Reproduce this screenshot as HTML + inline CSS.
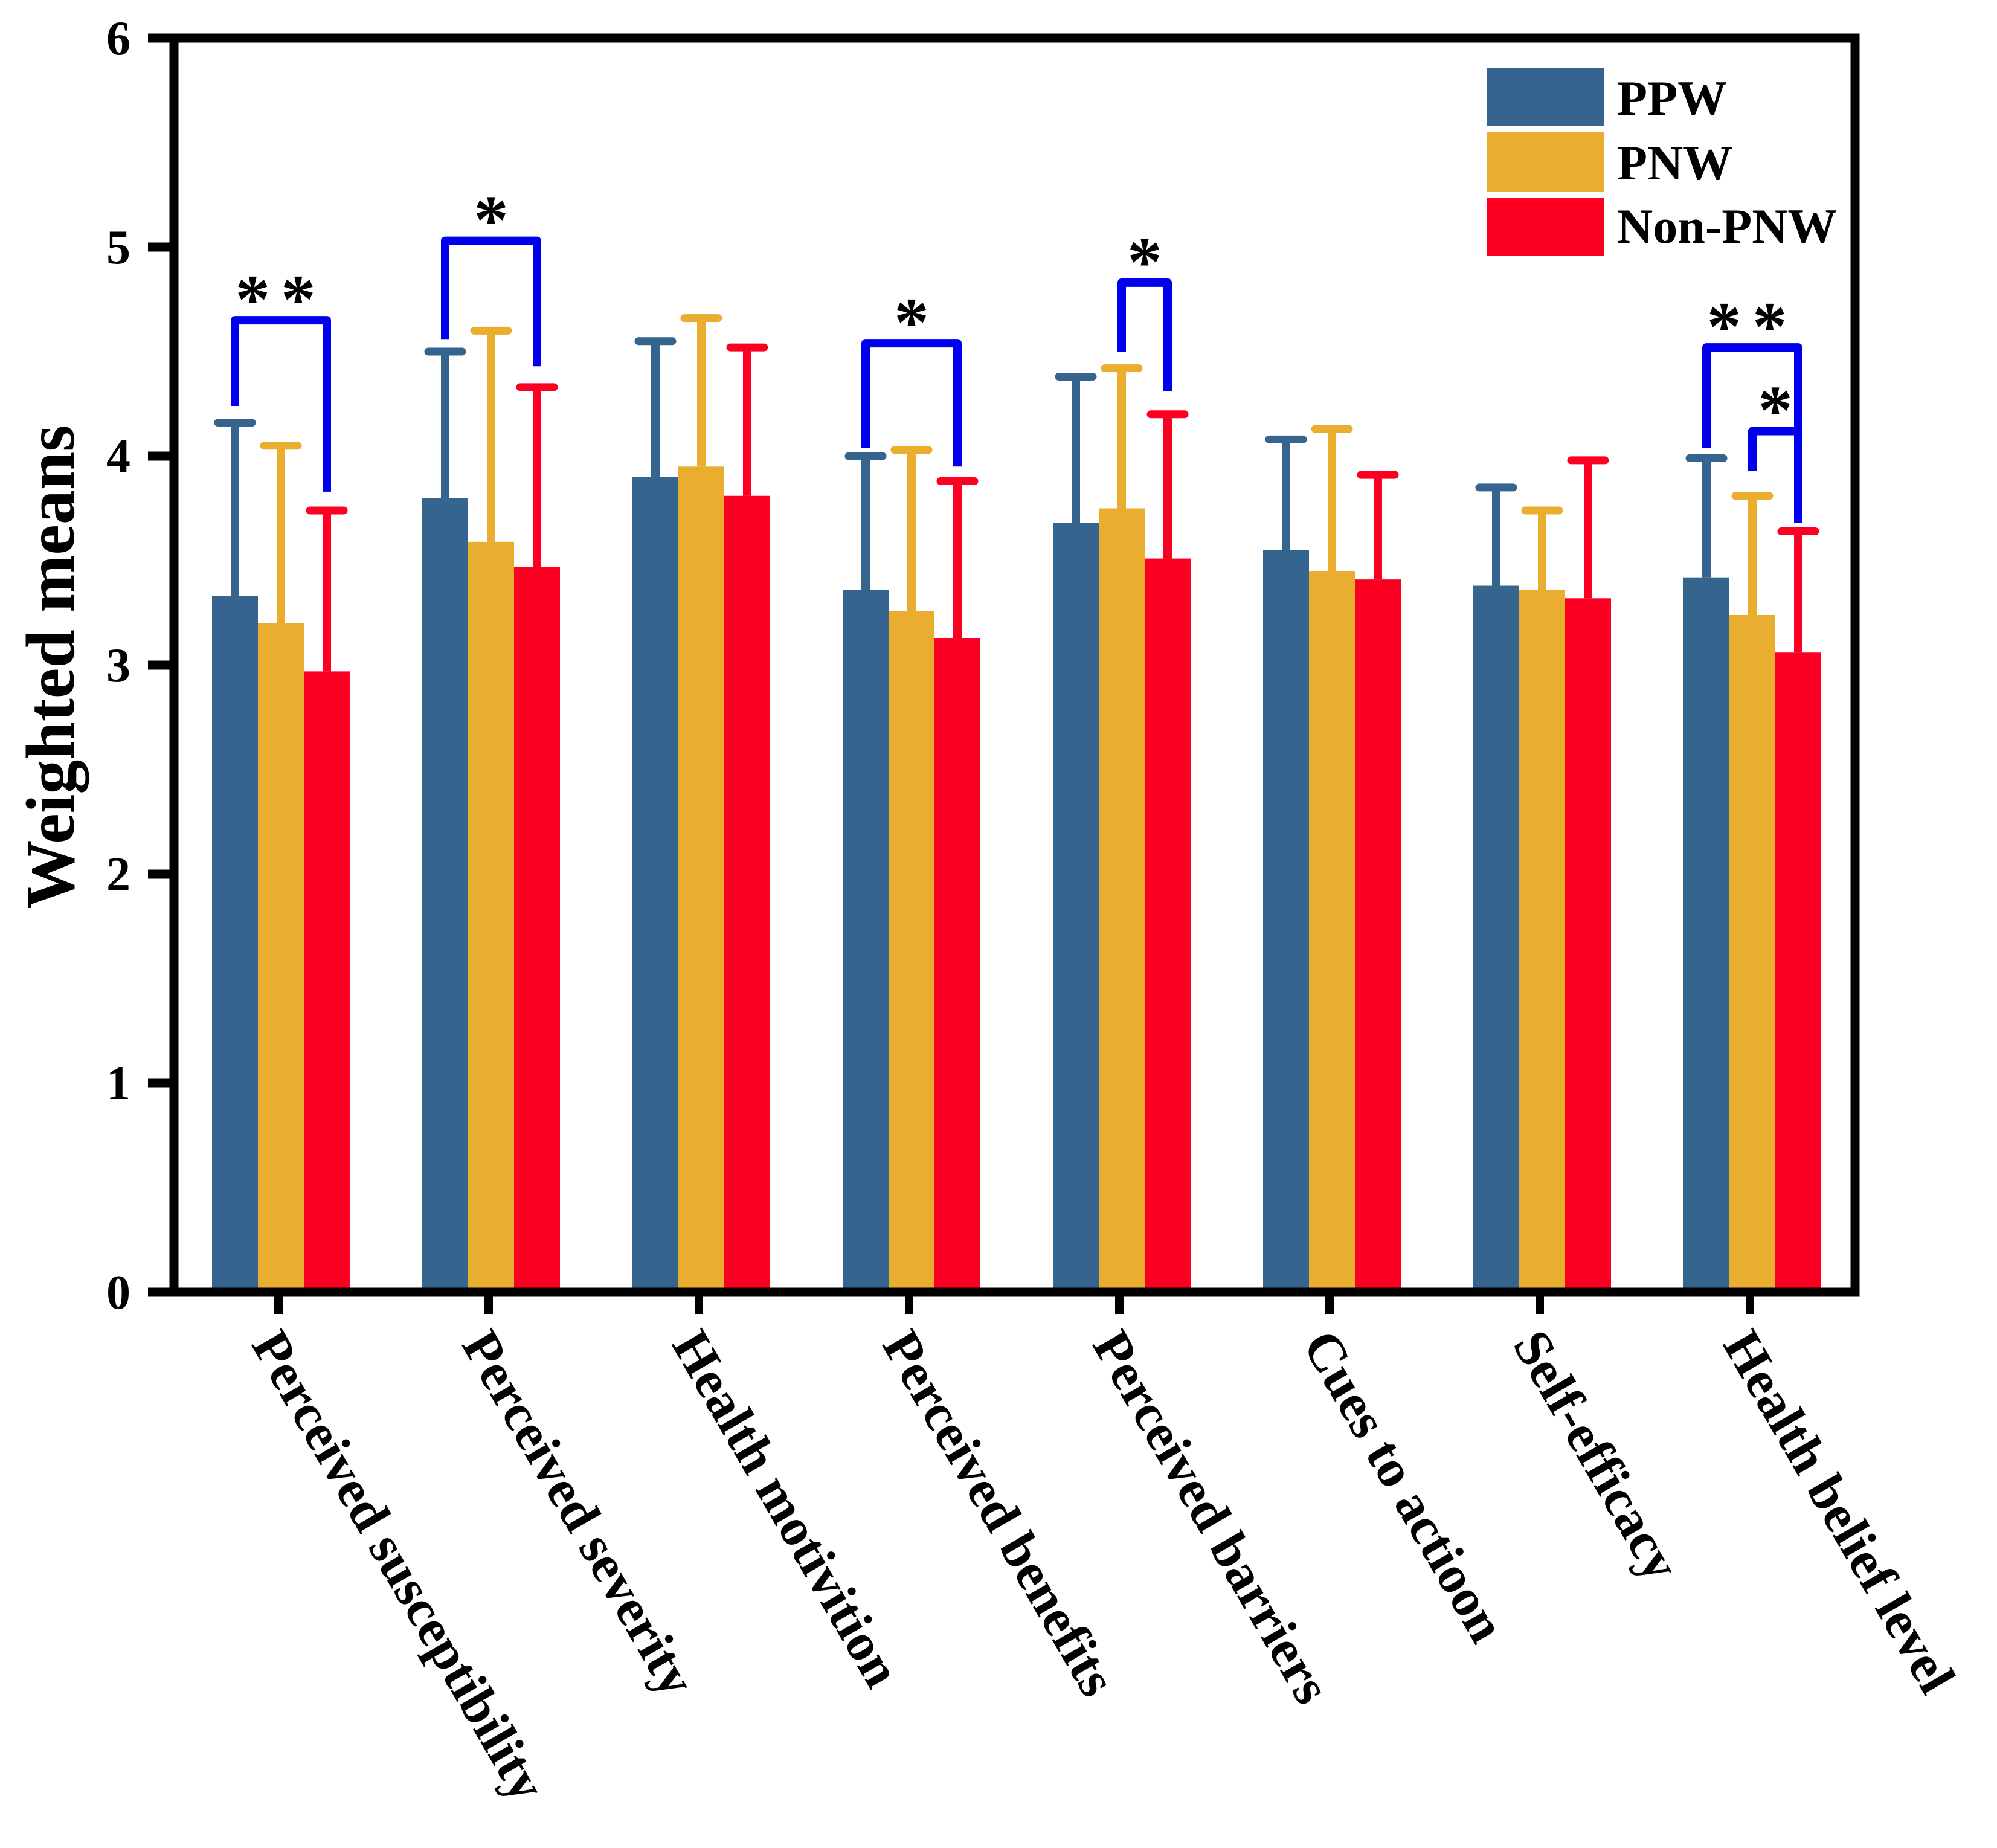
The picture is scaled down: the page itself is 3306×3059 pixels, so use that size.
<!DOCTYPE html>
<html><head><meta charset="utf-8"><style>html,body{margin:0;padding:0;background:#fff}svg{display:block}text{font-family:"Liberation Serif","Times New Roman",serif;font-weight:bold}</style></head>
<body>
<svg id="chart" width="3306" height="3059" viewBox="0 0 3306 3059" xmlns="http://www.w3.org/2000/svg">
<g id="marks"></g>
<g id="axes"></g>
<g id="legend">
  <rect x="2461" y="112" width="195" height="97" fill="#35648f"/>
  <text x="2677" y="190" font-size="82">PPW</text>
  <rect x="2461" y="218" width="195" height="100" fill="#e9ad2f"/>
  <text x="2677" y="297" font-size="82">PNW</text>
  <rect x="2461" y="327" width="195" height="97" fill="#fc0022"/>
  <text x="2677" y="402" font-size="82">Non-PNW</text>
</g>
<text transform="translate(122,1104) rotate(-90)" text-anchor="middle" font-size="114">Weighted means</text>
</svg>
<script>
const categories = ["Perceived susceptibility","Perceived severity","Health motivition","Perceived benefits","Perceived barriers","Cues to actioon","Self-efficacy","Health belief level"];
const seriesNames = ["PPW","PNW","Non-PNW"];
const ppwMeans = [3.33,3.80,3.90,3.36,3.68,3.55,3.38,3.42];
const pnwMeans = [3.20,3.59,3.95,3.26,3.75,3.45,3.36,3.24];
const nonMeans = [2.97,3.47,3.81,3.13,3.51,3.41,3.32,3.06];
const ppwTops = [4.16,4.50,4.55,4.00,4.38,4.08,3.85,3.99];
const pnwTops = [4.05,4.60,4.66,4.03,4.42,4.13,3.74,3.81];
const nonTops = [3.74,4.33,4.52,3.88,4.20,3.91,3.98,3.64];
const yTicks = [0,1,2,3,4,5,6];
// [group, fromSeries, toSeries, top, leftEnd, rightEnd, label]
const brGroup = [0,1,3,4,7,7];
const brFrom = [0,0,0,1,0,1];
const brTo = [2,2,2,2,2,2];
const brTop = [4.65,5.03,4.54,4.83,4.52,4.12];
const brLeft = [4.24,4.56,4.04,4.50,4.04,3.93];
const brRight = [3.83,4.43,3.95,4.31,3.69,3.68];
const brLabel = ["**","*","*","*","**","*"];

const NS = "http://www.w3.org/2000/svg";
const colors = ["#35648f","#e9ad2f","#fc0022"];
const means = [ppwMeans,pnwMeans,nonMeans];
const tops = [ppwTops,pnwTops,nonTops];
const y0 = 2139, unit = 346;
function yS(v){return y0 - v*unit;}
function xC(i){return 465 + i*348;}
function xS(i,s){return xC(i) + (s-1)*76;}
function mk(tag, attrs, parent){const e=document.createElementNS(NS,tag);for(const k in attrs)e.setAttribute(k,attrs[k]);parent.appendChild(e);return e;}
const marks=document.getElementById('marks'), axes=document.getElementById('axes');
categories.forEach((c,i)=>{
  for(let s=0;s<3;s++){
    const cx=xS(i,s), v=means[s][i], t=tops[s][i];
    const bar=mk('rect',{x:cx-38,y:yS(v),width:76,height:yS(0)-yS(v),fill:colors[s]},marks);
    
    
    const eb=mk('line',{x1:cx,x2:cx,y1:yS(v),y2:yS(t),stroke:colors[s],'stroke-width':14},marks);
    
    
    const cap=mk('line',{x1:cx-28,x2:cx+28,y1:yS(t),y2:yS(t),stroke:colors[s],'stroke-width':13,'stroke-linecap':'round'},marks);
    
    
  }
});
brGroup.forEach((g,k)=>{
  const xl=xS(g,brFrom[k]), xr=xS(g,brTo[k]);
  const p=mk('path',{d:`M${xl},${yS(brLeft[k])} L${xl},${yS(brTop[k])} L${xr},${yS(brTop[k])} L${xr},${yS(brRight[k])}`,fill:'none',stroke:'#0000ee','stroke-width':14,'stroke-linejoin':'round'},marks);
  
  
  const t=mk('text',{x:(xl+xr)/2,y:yS(brTop[k])+4,'text-anchor':'middle','font-size':115,'letter-spacing':brLabel[k].length>1?'18':'0'},marks);
  t.textContent=brLabel[k];
  
  
});
const fr=mk('path',{d:`M288,63 L3071,63 L3071,${y0} L288,${y0} Z`,fill:'none',stroke:'#000','stroke-width':15},axes);


yTicks.forEach(v=>{
  const l=mk('line',{x1:245,x2:288,y1:yS(v),y2:yS(v),stroke:'#000','stroke-width':15},axes);
  
  
  const t=mk('text',{x:216,y:yS(v)+27,'text-anchor':'end','font-size':80},axes);
  t.textContent=v;
  
  
});
categories.forEach((c,i)=>{
  const x=xC(i)-4;
  const l=mk('line',{x1:x,x2:x,y1:y0,y2:y0+36,stroke:'#000','stroke-width':14},axes);
  
  
  const t=mk('text',{transform:`translate(${x-46},${y0+86}) rotate(60)`,'font-size':88},axes);
  t.textContent=c;
  
  
});
</script>
</body></html>
